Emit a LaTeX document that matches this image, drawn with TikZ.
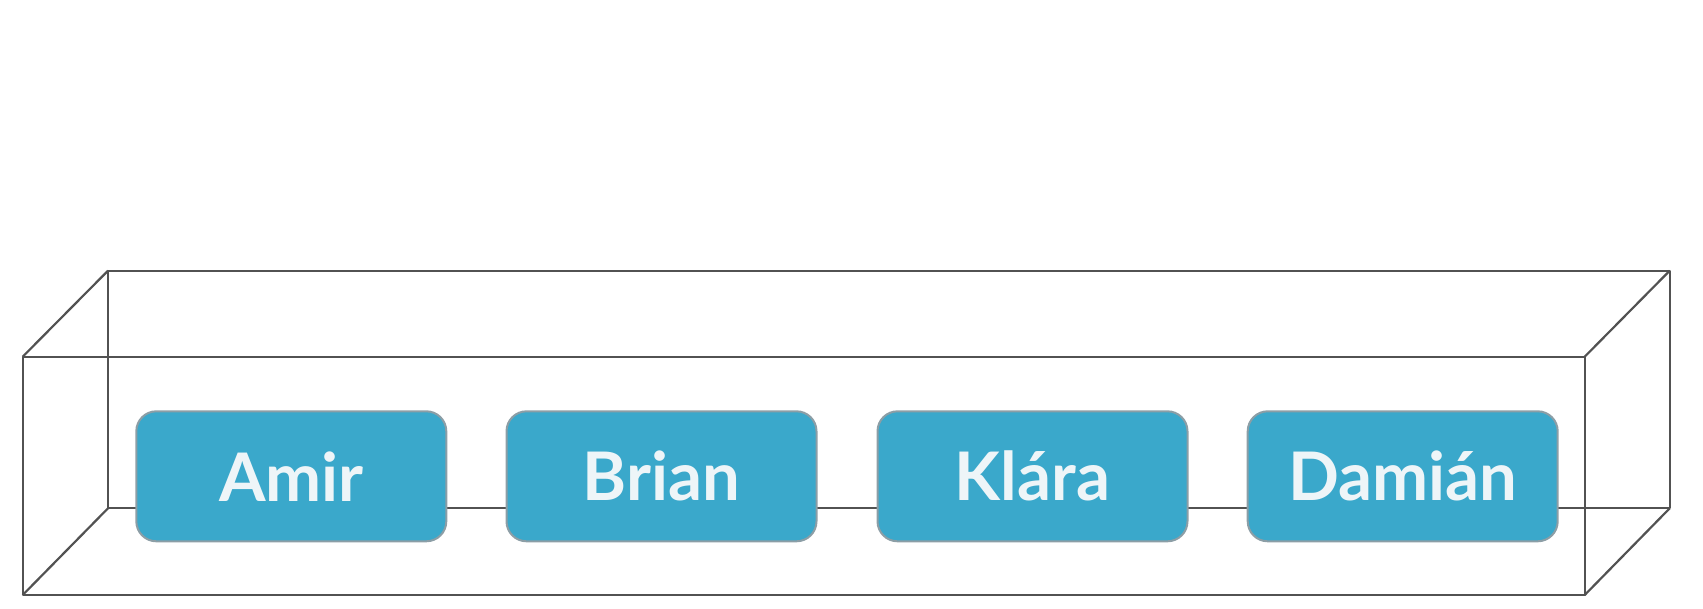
\documentclass[tikz,border=0pt]{standalone}
\usepackage{fontspec}
\setmainfont{Lato}
\definecolor{edgegray}{HTML}{525252}
\definecolor{boxfill}{HTML}{3AA8CB}
\definecolor{boxline}{HTML}{8C9EA6}
\definecolor{txt}{HTML}{EEF5F8}
\begin{document}
\begin{tikzpicture}[x=1pt,y=-1pt,
  edge/.style={draw=edgegray,line width=2.2pt,line join=round},
  namebox/.style={draw=boxline,line width=2pt,fill=boxfill,rounded corners=20pt,
    minimum width=310pt,minimum height=130pt,inner sep=0pt,
    text=txt,font=\fontsize{67}{67}\selectfont\bfseries}]
\useasboundingbox (0,0) rectangle (1703,608);
% front face corners
\coordinate (ftl) at (22.7,356.7);
\coordinate (ftr) at (1584.7,356.7);
\coordinate (fbl) at (22.7,595);
\coordinate (fbr) at (1584.7,595);
% back face corners
\coordinate (btl) at (108,270.7);
\coordinate (btr) at (1669.7,270.7);
\coordinate (bbl) at (108,508.3);
\coordinate (bbr) at (1669.7,508.3);
% back face
\draw[edge] (btl) -- (btr) -- (bbr) -- (bbl) -- cycle;
% connecting edges
\draw[edge] (ftl) -- (btl);
\draw[edge] (ftr) -- (btr);
\draw[edge] (fbl) -- (bbl);
\draw[edge] (fbr) -- (bbr);
% front face
\draw[edge] (ftl) -- (ftr) -- (fbr) -- (fbl) -- cycle;
% name boxes
\node[namebox] (amir)   at (291.3,476.3)  {Amir};
\node[namebox] (brian)  at (661.5,476.3)  {Brian};
\node[namebox] (klara)  at (1032.5,476.3) {Klára};
\node[namebox] (damian) at (1402.7,476.3) {Damián};
\end{tikzpicture}
\end{document}
